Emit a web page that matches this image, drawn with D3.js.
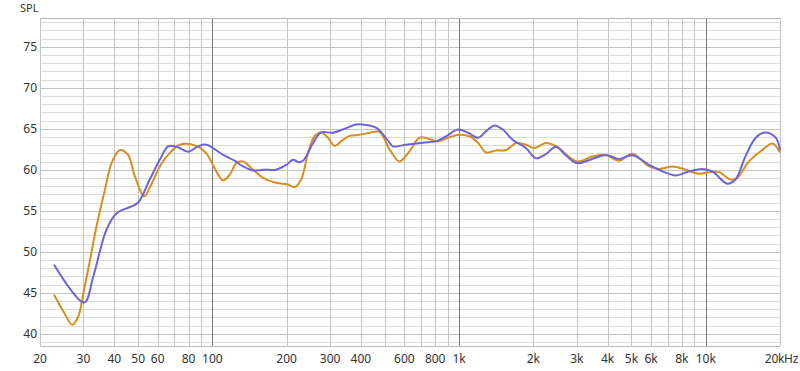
<!DOCTYPE html>
<html>
<head>
<meta charset="utf-8">
<script src="https://cdn.jsdelivr.net/npm/d3@7"></script>
<style>
  body { margin: 0; background: #fff; }
  text { font-family: "Noto Sans", sans-serif; }
</style>
</head>
<body>
<div id="container"></div>
<script>
const width = 800;
const height = 371;
const margin = { top: 18, right: 20, bottom: 25, left: 40 };

// frequency response, Hz / dB
const orangeFreq = [22.8, 24.9, 27.0, 28.6, 30, 31.9, 33.9, 36.7, 39.0, 42.2, 45.5, 48.5, 52.9, 55.7, 61.2, 66.1, 73.7, 86.2, 94.5, 105.5, 110.6, 117.6, 125, 133, 143.8, 160.5, 181, 202, 216, 229, 244, 259, 276, 294, 313, 332, 358, 394, 433, 476, 522, 573, 628, 690, 758, 818, 912, 1000, 1107, 1195, 1288, 1414, 1552, 1704, 1866, 2014, 2248, 2468, 2540, 3010, 3466, 3928, 4452, 5040, 5892, 6472, 7328, 8300, 9396, 10320, 11340, 12620, 13420, 14960, 16960, 18640, 20000];
const orangeDb = [44.75, 42.7, 41.1, 42.1, 45.0, 49.0, 53.1, 57.6, 60.8, 62.4, 61.8, 59.2, 56.75, 57.8, 60.4, 61.8, 63.05, 62.9, 62.0, 59.4, 58.7, 59.4, 60.8, 61.0, 60.2, 59.0, 58.4, 58.2, 57.9, 58.8, 62.0, 64.05, 64.55, 63.9, 62.9, 63.45, 64.1, 64.25, 64.5, 64.6, 62.5, 61.0, 62.2, 63.9, 63.75, 63.45, 63.95, 64.25, 64.05, 63.25, 62.1, 62.35, 62.4, 63.25, 63.05, 62.65, 63.25, 62.9, 62.65, 61.0, 61.6, 61.8, 61.1, 61.95, 60.4, 60.1, 60.4, 60.0, 59.5, 59.7, 59.7, 58.8, 59.0, 61.0, 62.4, 63.2, 62.1];

const purpleFreq = [22.8, 30.2, 32.9, 37.2, 40.9, 46.3, 50, 55.7, 61.2, 66.1, 71.5, 80, 87.5, 94.5, 110.6, 123, 133, 146, 160.5, 181, 199.5, 212, 225, 235, 256, 276, 307, 337, 382, 406, 462, 522, 538, 610, 714, 806, 885, 990, 1088, 1195, 1288, 1392, 1504, 1648, 1866, 2048, 2248, 2468, 2700, 3010, 3466, 3928, 4452, 5040, 5892, 6672, 7556, 8560, 9680, 10620, 12220, 13200, 14500, 15940, 17500, 19220, 20000];
const purpleDb = [48.4, 43.8, 47.0, 52.7, 54.7, 55.45, 56.0, 58.8, 61.2, 62.85, 62.8, 62.2, 62.85, 63.05, 61.8, 61.1, 60.4, 59.9, 60.0, 60.0, 60.6, 61.2, 60.9, 61.2, 63.25, 64.55, 64.5, 64.9, 65.5, 65.5, 65.1, 63.3, 62.85, 63.05, 63.3, 63.45, 64.05, 64.9, 64.5, 63.9, 64.7, 65.4, 64.9, 63.65, 62.65, 61.4, 61.9, 62.8, 61.8, 60.8, 61.3, 61.8, 61.3, 61.75, 60.6, 59.8, 59.3, 59.8, 60.1, 59.8, 58.3, 58.8, 61.65, 63.9, 64.55, 63.9, 62.4];

const gridFreqs = [20, 30, 40, 50, 60, 70, 80, 90, 100, 200, 300, 400, 500, 600, 700, 800, 900, 1000, 2000, 3000, 4000, 5000, 6000, 7000, 8000, 9000, 10000, 20000];
const majorFreqs = [100, 1000, 10000];
const xTickValues = [20, 30, 40, 50, 60, 80, 100, 200, 300, 400, 600, 800, 1000, 2000, 3000, 4000, 5000, 6000, 8000, 10000, 20000];
const xTickLabels = ["20", "30", "40", "50", "60", "80", "100", "200", "300", "400", "600", "800", "1k", "2k", "3k", "4k", "5k", "6k", "8k", "10k", "20kHz"];
const yTickValues = [40, 45, 50, 55, 60, 65, 70, 75];

const x = d3.scaleLog()
  .domain([20, 20000])
  .range([margin.left, width - margin.right]);

const y = d3.scaleLinear()
  .domain([38.5, 78.5])
  .range([height - margin.bottom, margin.top]);

const svg = d3.select("#container")
  .append("svg")
  .attr("width", width)
  .attr("height", height)
  .attr("viewBox", [0, 0, width, height]);

// horizontal grid, one line per dB
svg.append("g")
  .selectAll("line")
  .data(d3.range(39, 79))
  .join("line")
  .attr("x1", margin.left)
  .attr("x2", width - margin.right)
  .attr("y1", d => Math.round(y(d)) + 0.5)
  .attr("y2", d => Math.round(y(d)) + 0.5)
  .attr("stroke", d => d % 5 === 0 ? "#c4c4c4" : "#dcdcdc");

// vertical grid
svg.append("g")
  .selectAll("line")
  .data(gridFreqs)
  .join("line")
  .attr("x1", d => Math.round(x(d)) + 0.5)
  .attr("x2", d => Math.round(x(d)) + 0.5)
  .attr("y1", margin.top)
  .attr("y2", height - margin.bottom)
  .attr("stroke", d => majorFreqs.includes(d) ? "#7a7a7a" : "#c4c4c4");

// top and bottom frame
svg.append("g")
  .selectAll("line")
  .data([margin.top, height - margin.bottom])
  .join("line")
  .attr("x1", margin.left)
  .attr("x2", width - margin.right)
  .attr("y1", d => d + 0.5)
  .attr("y2", d => d + 0.5)
  .attr("stroke", "#b8b8b8");

// axis labels
svg.append("g")
  .selectAll("text")
  .data(yTickValues)
  .join("text")
  .attr("x", margin.left - 3)
  .attr("y", d => y(d) + 4)
  .attr("text-anchor", "end")
  .attr("font-size", 12)
  .attr("fill", "#333")
  .text(d => d);

const last = xTickValues.length - 1;
svg.append("g")
  .selectAll("text")
  .data(xTickValues)
  .join("text")
  .attr("x", d => x(d))
  .attr("y", height - 8)
  .attr("text-anchor", (d, i) => i === last ? "end" : "middle")
  .attr("dx", (d, i) => i === last ? 18 : 0)
  .attr("font-size", 12)
  .attr("letter-spacing", (d, i) => i === last ? -0.3 : 0)
  .attr("fill", "#333")
  .text((d, i) => xTickLabels[i]);

svg.append("text")
  .attr("x", 20)
  .attr("y", 12)
  .attr("font-size", 11)
  .attr("fill", "#333")
  .text("SPL");

const line = d3.line()
  .x(d => x(d[0]))
  .y(d => y(d[1]))
  .curve(d3.curveCatmullRom.alpha(0.5));

svg.append("path")
  .datum(d3.zip(orangeFreq, orangeDb))
  .attr("fill", "none")
  .attr("stroke", "#d98e1f")
  .attr("stroke-width", 2)
  .attr("d", line);

svg.append("path")
  .datum(d3.zip(purpleFreq, purpleDb))
  .attr("fill", "none")
  .attr("stroke", "#6c64da")
  .attr("stroke-width", 2)
  .attr("d", line);
</script>
</body>
</html>
